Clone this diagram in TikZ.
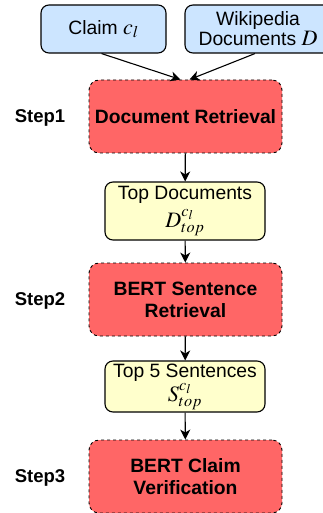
\documentclass[tikz,border=0pt]{standalone}
\usepackage{mathptmx}
\usepackage{fontspec}
\setmainfont{Liberation Sans}
\usetikzlibrary{arrows.meta}
\usetikzlibrary{shapes}

\definecolor{inblue}{HTML}{CCE5FF}
\definecolor{stepred}{HTML}{FF6666}
\definecolor{outyellow}{HTML}{FFFFCC}

\newcommand{\bigmath}[1]{{\fontsize{22}{24}\selectfont $#1$}}

\begin{document}
\begin{tikzpicture}[x=1pt, y=-1pt,
    font=\fontsize{19.3}{22}\selectfont,
    inbox/.style={draw, line width=1.1pt, rounded corners=8pt, fill=inblue, align=center, inner sep=0pt},
    stepbox/.style={draw, dashed, line width=0.9pt, rounded corners=10pt, fill=stepred, align=center,
        minimum width=193pt, minimum height=73pt, inner sep=0pt, font=\fontsize{19.3}{22}\selectfont\bfseries},
    outbox/.style={draw, line width=1.1pt, rounded corners=8pt, fill=outyellow, align=center,
        minimum width=160pt, inner sep=0pt},
    steplabel/.style={font=\fontsize{18.5}{21}\selectfont\bfseries},
    flow/.style={-{Stealth[length=10pt, width=10pt, inset=3pt]}, line width=1.1pt}]

    \useasboundingbox (0, 0) rectangle (323, 513);
    \clip (0, 0) rectangle (323, 513);

    % Declare the inputs
    \node[inbox, minimum width=125pt, minimum height=48pt] at (103.5, 29) (claim) {Claim \bigmath{c_l}};
    \node[inbox, minimum width=146pt, minimum height=48pt] at (258, 29) (wiki) {Wikipedia\\[-2pt]Documents \bigmath{D}};

    % Declare the steps
    \node[stepbox] at (185.5, 116.5) (docret) {Document Retrieval};
    \node[stepbox] at (185.5, 299.5) (sentret) {BERT Sentence\\Retrieval};
    \node[stepbox] at (185.5, 476.5) (claimver) {BERT Claim\\Verification};

    % Declare the outputs
    \node[outbox, minimum height=58pt] at (185, 211) (topdocs) {Top Documents\\[4pt]\bigmath{D_{top}^{c_l}}};
    \node[outbox, minimum height=51pt] at (185, 386.5) (topsents) {Top 5 Sentences\\[1pt]\bigmath{S_{top}^{c_l}}};

    % Declare step labels
    \node[steplabel] at (40, 118) (step1) {Step1};
    \node[steplabel] at (40, 301) (step2) {Step2};
    \node[steplabel] at (40, 478) (step3) {Step3};

    % Declare edges
    \draw[flow] ([xshift=-2pt]claim.south) -- ([xshift=-5pt]docret.north);
    \draw[flow] ([xshift=-3pt]wiki.south) -- ([xshift=4pt]docret.north);
    \draw[flow] (docret) -- (topdocs);
    \draw[flow] (topdocs) -- (sentret);
    \draw[flow] (sentret) -- (topsents);
    \draw[flow] (topsents) -- (claimver);

\end{tikzpicture}
\end{document}
